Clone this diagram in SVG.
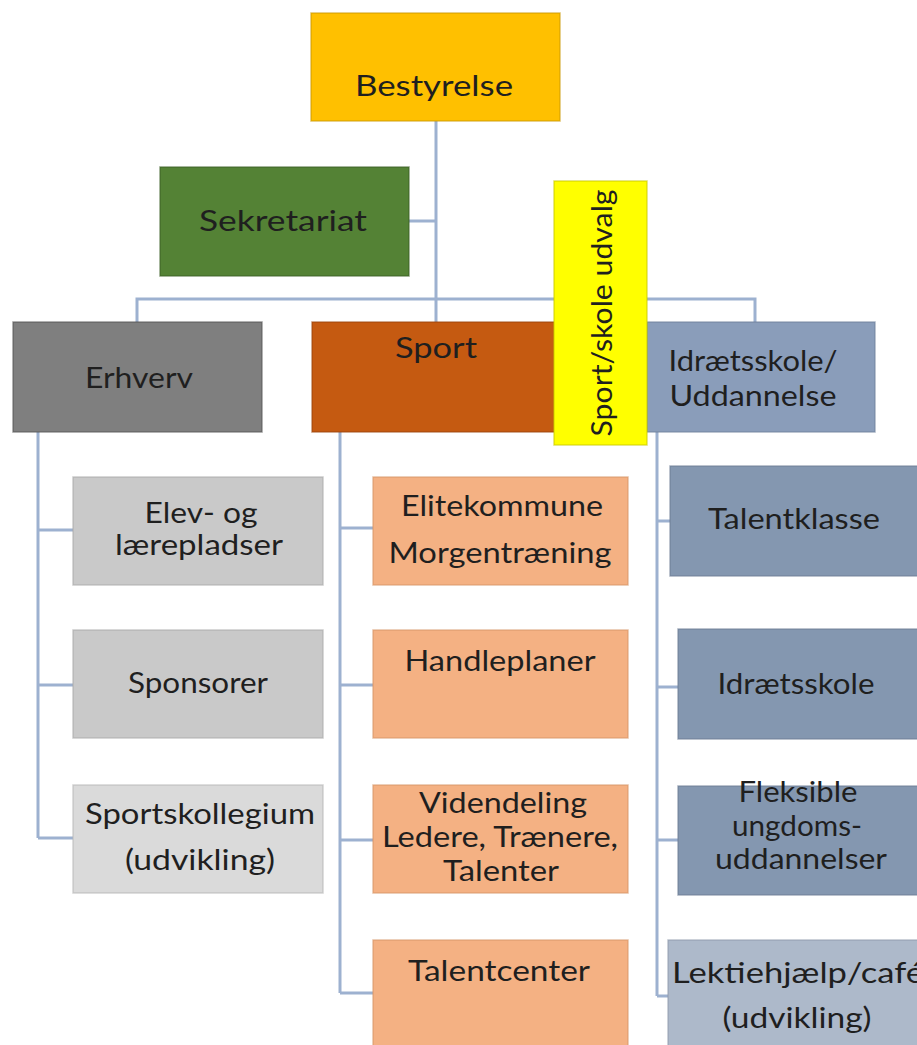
<svg xmlns="http://www.w3.org/2000/svg" width="917" height="1045" viewBox="0 0 917 1045">
<style>
text{font-family:Lato,"Liberation Sans",sans-serif;font-size:29px;fill:#1f1f1f;text-anchor:middle}
.c{fill:none;stroke:#9DB1D0;stroke-width:3}
.b{stroke-width:1.5;stroke-opacity:0.6}
</style>
<rect width="917" height="1045" fill="#fff"/>
<g id="connectors">
<path class="c" d="M436 121V299M409 221H436M137 322V299H755V322M436 299V322"/>
<path class="c" d="M38 432V838M38 530H73M38 685H73M38 838H73"/>
<path class="c" d="M340 432V993M340 528H373M340 685H373M340 840H373M340 993H373"/>
<path class="c" d="M657 432V996M657 521H670M657 687H678M657 840H678M657 996H668"/>
</g>
<g id="bestyrelse"><rect class="b" x="311" y="13" width="249" height="108" fill="#FFC000" stroke="#C99700"/><text x="434" y="96" textLength="158" lengthAdjust="spacingAndGlyphs">Bestyrelse</text></g>
<g id="sekretariat"><rect class="b" x="160" y="167" width="249" height="109" fill="#548235" stroke="#3B5E25"/><text x="283" y="231" textLength="168" lengthAdjust="spacingAndGlyphs">Sekretariat</text></g>
<g id="erhverv"><rect class="b" x="13" y="322" width="249" height="110" fill="#7F7F7F" stroke="#555"/><text x="139" y="388" textLength="108" lengthAdjust="spacingAndGlyphs">Erhverv</text></g>
<g id="sport"><rect class="b" x="312" y="322" width="250" height="110" fill="#C55A11" stroke="#9A450C"/><text x="436" y="358" textLength="82" lengthAdjust="spacingAndGlyphs">Sport</text></g>
<g id="idraetsskole-uddannelse"><rect class="b" x="647" y="322" width="228" height="110" fill="#8A9DBA" stroke="#6E7F99"/><text x="753" y="371" textLength="169" lengthAdjust="spacingAndGlyphs">Idrætsskole/</text><text x="753" y="406" textLength="167" lengthAdjust="spacingAndGlyphs">Uddannelse</text></g>
<g id="udvalg"><rect class="b" x="554" y="181" width="93" height="264" fill="#FFFF00" stroke="#C8C800"/><text transform="translate(612 313) rotate(-90)" x="0" y="0" textLength="247" lengthAdjust="spacingAndGlyphs">Sport/skole udvalg</text></g>
<g id="elev"><rect class="b" x="73" y="477" width="250" height="108" fill="#C9C9C9" stroke="#AAA"/><text x="201" y="523" textLength="113" lengthAdjust="spacingAndGlyphs">Elev- og</text><text x="199" y="555" textLength="168" lengthAdjust="spacingAndGlyphs">lærepladser</text></g>
<g id="sponsorer"><rect class="b" x="73" y="630" width="250" height="108" fill="#C9C9C9" stroke="#AAA"/><text x="198" y="693" textLength="140" lengthAdjust="spacingAndGlyphs">Sponsorer</text></g>
<g id="sportskollegium"><rect class="b" x="73" y="785" width="250" height="108" fill="#DADADA" stroke="#B5B5B5"/><text x="200" y="824" textLength="230" lengthAdjust="spacingAndGlyphs">Sportskollegium</text><text x="200" y="870" textLength="150" lengthAdjust="spacingAndGlyphs">(udvikling)</text></g>
<g id="elitekommune"><rect class="b" x="373" y="477" width="255" height="108" fill="#F4B183" stroke="#D69468"/><text x="502" y="516" textLength="202" lengthAdjust="spacingAndGlyphs">Elitekommune</text><text x="500" y="563" textLength="223" lengthAdjust="spacingAndGlyphs">Morgentræning</text></g>
<g id="handleplaner"><rect class="b" x="373" y="630" width="255" height="108" fill="#F4B183" stroke="#D69468"/><text x="500" y="671" textLength="191" lengthAdjust="spacingAndGlyphs">Handleplaner</text></g>
<g id="videndeling"><rect class="b" x="373" y="785" width="255" height="108" fill="#F4B183" stroke="#D69468"/><text x="503" y="813" textLength="168" lengthAdjust="spacingAndGlyphs">Videndeling</text><text x="500" y="847" textLength="236" lengthAdjust="spacingAndGlyphs">Ledere, Trænere,</text><text x="501" y="881" textLength="116" lengthAdjust="spacingAndGlyphs">Talenter</text></g>
<g id="talentcenter"><rect class="b" x="373" y="940" width="255" height="110" fill="#F4B183" stroke="#D69468"/><text x="499" y="981" textLength="182" lengthAdjust="spacingAndGlyphs">Talentcenter</text></g>
<g id="talentklasse"><rect class="b" x="670" y="466" width="255" height="110" fill="#8497B0" stroke="#6A7B93"/><text x="794" y="529" textLength="172" lengthAdjust="spacingAndGlyphs">Talentklasse</text></g>
<g id="idraetsskole"><rect class="b" x="678" y="629" width="245" height="110" fill="#8497B0" stroke="#6A7B93"/><text x="796" y="694" textLength="157" lengthAdjust="spacingAndGlyphs">Idrætsskole</text></g>
<g id="fleksible"><rect class="b" x="678" y="786" width="245" height="109" fill="#8497B0" stroke="#6A7B93"/><text x="798" y="802" textLength="119" lengthAdjust="spacingAndGlyphs">Fleksible</text><text x="797" y="836" textLength="130" lengthAdjust="spacingAndGlyphs">ungdoms-</text><text x="801" y="869" textLength="172" lengthAdjust="spacingAndGlyphs">uddannelser</text></g>
<g id="lektiehjaelp"><rect class="b" x="668" y="940" width="260" height="110" fill="#ADB9CA" stroke="#8E9AAB"/><text x="672" y="983" style="text-anchor:start" textLength="252" lengthAdjust="spacingAndGlyphs">Lektiehjælp/café</text><text x="797" y="1028" textLength="149" lengthAdjust="spacingAndGlyphs">(udvikling)</text></g>
</svg>
